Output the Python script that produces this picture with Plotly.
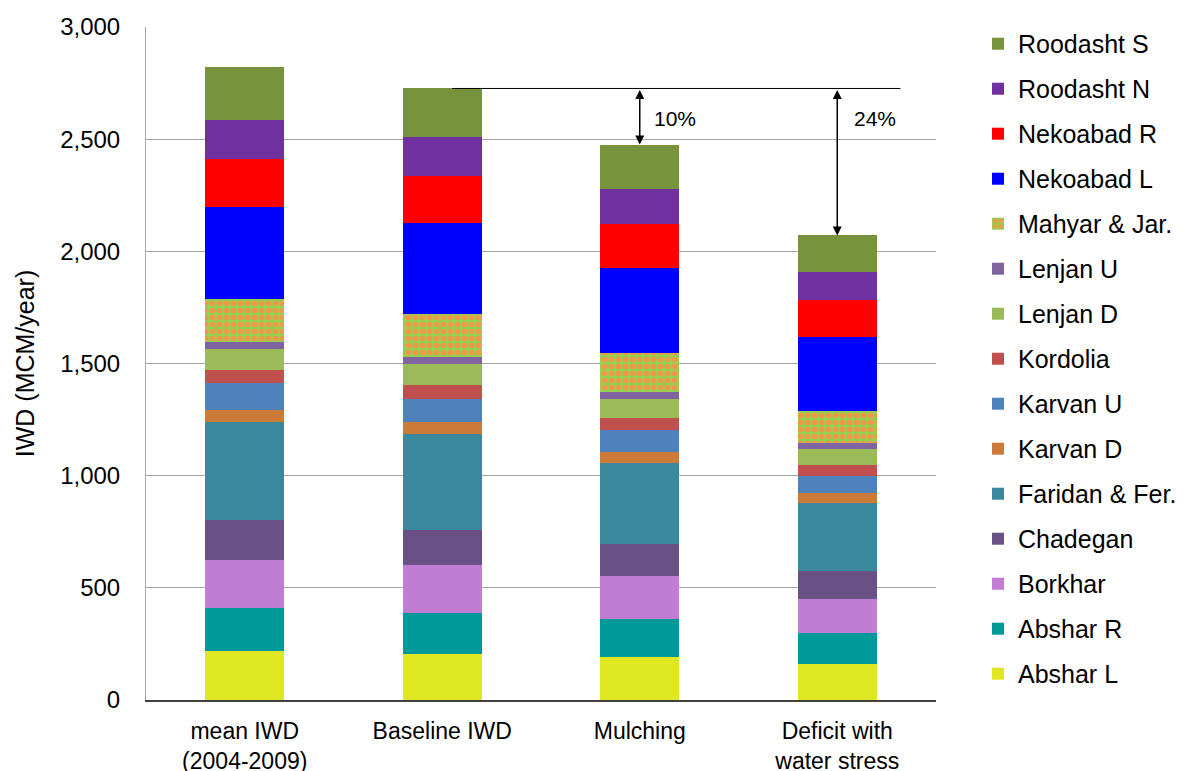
import plotly.graph_objects as go

scenarios = ["mean IWD<br>(2004-2009)", "Baseline IWD", "Mulching", "Deficit with<br>water stress"]

# Stacked from bottom to top
regions = ["Abshar L", "Abshar R", "Borkhar", "Chadegan", "Faridan & Fer.", "Karvan D",
           "Karvan U", "Kordolia", "Lenjan D", "Lenjan U", "Mahyar & Jar.", "Nekoabad L",
           "Nekoabad R", "Roodasht N", "Roodasht S"]

abshar_l = [219, 207, 192, 160]
abshar_r = [192, 179, 168, 138]
borkhar = [215, 214, 192, 151]
chadegan = [177, 157, 144, 124]
faridan = [437, 428, 360, 307]
karvan_d = [52, 54, 50, 42]
karvan_u = [122, 103, 97, 77]
kordolia = [59, 61, 55, 49]
lenjan_d = [92, 93, 84, 73]
lenjan_u = [32, 34, 33, 24]
mahyar = [191, 190, 172, 144]
nekoabad_l = [408, 407, 379, 327]
nekoabad_r = [214, 211, 198, 166]
roodasht_n = [176, 170, 155, 127]
roodasht_s = [234, 218, 197, 162]

series = [abshar_l, abshar_r, borkhar, chadegan, faridan, karvan_d, karvan_u, kordolia,
          lenjan_d, lenjan_u, mahyar, nekoabad_l, nekoabad_r, roodasht_n, roodasht_s]

colors = ["#DFE622", "#009999", "#C17CD4", "#695185", "#3A889E", "#CC7A38", "#4F81BD",
          "#C0504D", "#9BBB59", "#8064A2", "#92D050", "#0000FF", "#FF0000", "#7030A0", "#77933C"]

reduction_labels = ["10%", "24%"]

FONT = "Arial, Liberation Sans, sans-serif"

fig = go.Figure()
for i, (name, vals, col) in enumerate(zip(regions, series, colors)):
    marker = dict(color=col, line=dict(width=0))
    if name == "Mahyar & Jar.":
        marker["pattern"] = dict(shape=".", bgcolor="#92D050", fgcolor="#F79646",
                                 size=7, solidity=0.5, fillmode="replace")
    fig.add_trace(go.Bar(x=scenarios, y=vals, name=name, marker=marker,
                         legendgroup=name, legendrank=100 - i))

totals = [sum(s[i] for s in series) for i in range(len(scenarios))]
base = totals[1]

# reference line from baseline top
fig.add_shape(type="line", xref="x", yref="y", x0=1.05, x1=3.32, y0=base, y1=base,
              line=dict(color="black", width=1))

for idx, lab, dx in [(2, reduction_labels[0], 0.18), (3, reduction_labels[1], 0.19)]:
    fig.add_annotation(x=idx, y=totals[idx], ax=idx, ay=base, xref="x", yref="y",
                       axref="x", ayref="y", text="", showarrow=True,
                       arrowhead=2, startarrowhead=2, arrowside="end+start",
                       arrowsize=1.2, startarrowsize=1.2, arrowwidth=1.5, arrowcolor="black")
    fig.add_annotation(x=idx + dx, y=base - 135, xref="x", yref="y", text=lab,
                       showarrow=False, font=dict(family=FONT, size=21, color="black"))

fig.update_layout(
    barmode="stack",
    bargap=0.6,
    width=1186, height=771,
    margin=dict(l=146, r=250, t=27, b=71),
    paper_bgcolor="white", plot_bgcolor="white",
    font=dict(family=FONT, size=23, color="black"),
    legend=dict(x=0.8246, xref="container", xanchor="left",
                y=0.9728, yref="container", yanchor="top",
                traceorder="grouped", tracegroupgap=9.5, maxheight=760,
                font=dict(family=FONT, size=25, color="black"),
                itemclick=False, bgcolor="rgba(0,0,0,0)"),
    showlegend=True,
)

fig.update_yaxes(range=[0, 3000], dtick=500, tickformat=",", showgrid=True,
                 gridcolor="#A6A6A6", gridwidth=1, showline=True, linecolor="#A6A6A6",
                 linewidth=1, zeroline=False, ticks="", ticklabelstandoff=20,
                 tickfont=dict(family=FONT, size=24, color="black"),
                 title=dict(text="IWD (MCM/year)", standoff=18,
                            font=dict(family=FONT, size=25, color="black")),
                 automargin=False)
fig.update_xaxes(showline=True, linecolor="#404040", linewidth=1.5, ticks="",
                 ticklabelstandoff=10, tickfont=dict(family=FONT, size=23, color="black"),
                 automargin=False)

fig.write_html("out.html", config={"displayModeBar": False},
               post_script="document.body.style.margin='0';document.body.style.overflow='hidden';")
